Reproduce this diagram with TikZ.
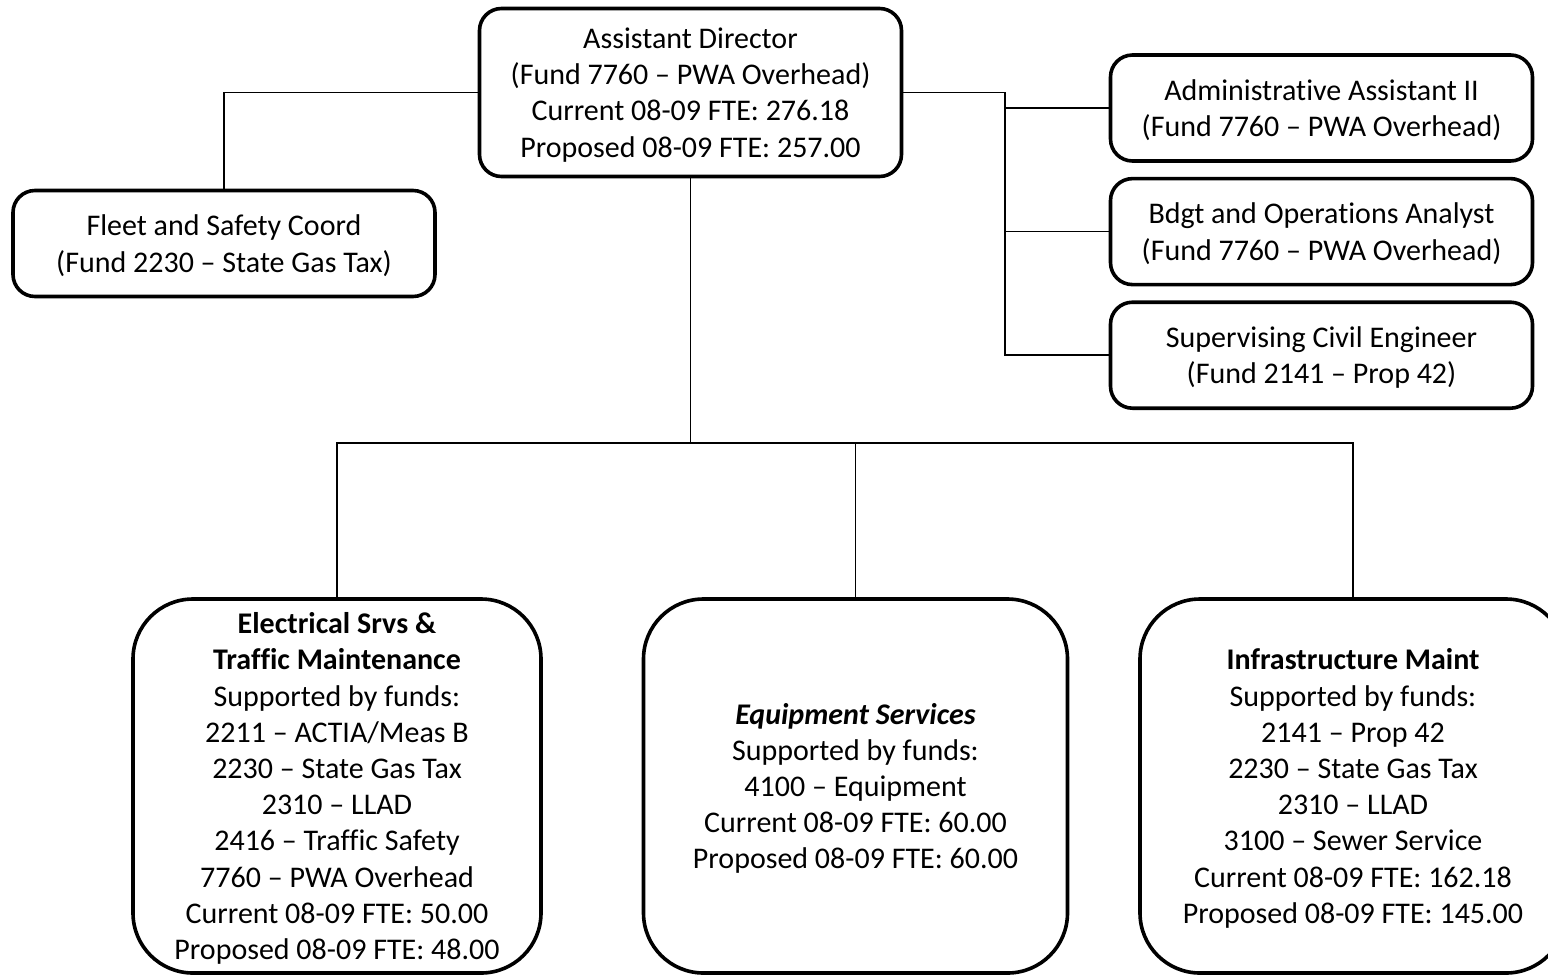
\documentclass[tikz,border=0pt]{standalone}
\usepackage{fontspec}
\setmainfont{Carlito}[Ligatures={TeX,NoCommon}]
\usetikzlibrary{positioning}

\begin{document}
\begin{tikzpicture}[
  x=0.5pt, y=-0.5pt,
  node distance=7pt,
  box/.style={draw, line width=1.8pt, rounded corners=11pt, minimum width=211pt,
              minimum height=53pt, align=center, inner sep=0pt, text depth=0pt,
              font=\fontsize{15}{18.1}\selectfont},
  unit/.style={box, rounded corners=30pt, minimum width=211pt, minimum height=187pt},
  conn/.style={line width=0.8pt}
]
\useasboundingbox (0,0) rectangle (1548,976);
% top row
\node[box, minimum height=84pt] (dir) at (690.5,92.5)
  {Assistant Director\\(Fund 7760 -- PWA Overhead)\\Current 08-09 FTE: 276.18\\Proposed 08-09 FTE: 257.00};
\node[box] (fleet) at (224,243.5) {Fleet and Safety Coord\\(Fund 2230 -- State Gas Tax)};
\node[box] (admin) at (1321.5,108) {Administrative Assistant II\\(Fund 7760 -- PWA Overhead)};
\node[box, below=of admin] (bdgt) {Bdgt and Operations Analyst\\(Fund 7760 -- PWA Overhead)};
\node[box, below=of bdgt] (sup) {Supervising Civil Engineer\\(Fund 2141 -- Prop 42)};
% divisions
\node[unit, minimum width=204pt] (elec) at (337,786)
  {\textbf{Electrical Srvs \&}\\\textbf{Traffic Maintenance}\\Supported by funds:\\2211 -- ACTIA/Meas B\\2230 -- State Gas Tax\\2310 -- LLAD\\2416 -- Traffic Safety\\7760 -- PWA Overhead\\Current 08-09 FTE: 50.00\\Proposed 08-09 FTE: 48.00};
\node[unit, minimum width=212pt] (equip) at (855.5,786)
  {\textbf{\textit{Equipment Services}}\\Supported by funds:\\4100 -- Equipment\\Current 08-09 FTE: 60.00\\Proposed 08-09 FTE: 60.00};
\node[unit, minimum width=213pt] (infra) at (1353,786)
  {\textbf{Infrastructure Maint}\\Supported by funds:\\2141 -- Prop 42\\2230 -- State Gas Tax\\2310 -- LLAD\\3100 -- Sewer Service\\Current 08-09 FTE: 162.18\\Proposed 08-09 FTE: 145.00};
% connectors
\coordinate (rj) at (1005,92.5);
\coordinate (hub) at (690.5,443);
\draw[conn] (dir.west) -| (fleet.north);
\draw[conn] (dir.east) -- (rj) |- (sup.west);
\foreach \n in {admin,bdgt} \draw[conn] (rj |- \n.west) -- (\n.west);
\draw[conn] (dir.south) -- (hub);
\draw[conn] (elec.north) |- (hub) -| (infra.north);
\draw[conn] (hub -| equip.north) -- (equip.north);
\end{tikzpicture}
\end{document}
